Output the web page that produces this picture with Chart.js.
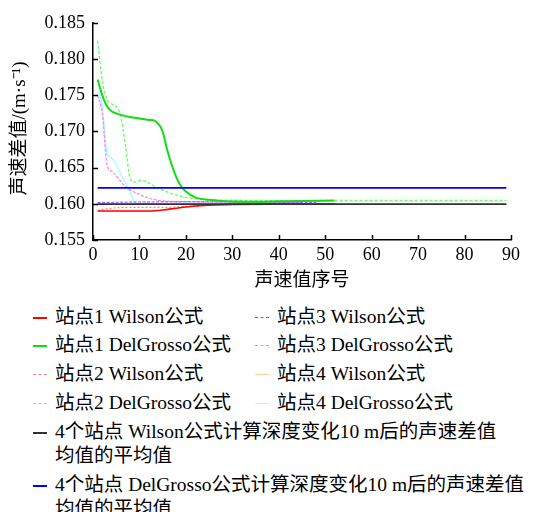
<!DOCTYPE html>
<html>
<head>
<meta charset="utf-8">
<script src="https://cdn.jsdelivr.net/npm/chart.js@4.4.0/dist/chart.umd.min.js"></script>
<style>
  body { margin: 0; background: #fff; width: 536px; height: 512px; overflow: hidden; position: relative;
         font-family: "Liberation Serif", "Noto Sans CJK SC", serif; }
  #c { position: absolute; left: 0; top: 0; }
  #legend { position: absolute; left: 0; top: 305px; width: 536px; font-size: 19.5px; color: #000; }
  .row { position: absolute; width: 500px; line-height: 24px; }
  .swatch { position: absolute; left: 0; width: 14px; height: 0; top: 12px; }
  .txt { position: absolute; left: 22px; top: 0; white-space: pre; }
</style>
</head>
<body>
<canvas id="c" width="536" height="295"></canvas>
<div id="legend"></div>
<script>
// tick labels
const xTicks = [0, 10, 20, 30, 40, 50, 60, 70, 80, 90];
const yTicks = [0.155, 0.160, 0.165, 0.170, 0.175, 0.180, 0.185];
const xTitle = "声速值序号";
const yTitle = "声速差值/(m·s⁻¹)";

const seriesLabels = [
  "站点1 Wilson公式", "站点1 DelGrosso公式", "站点2 Wilson公式", "站点2 DelGrosso公式",
  "站点3 Wilson公式", "站点3 DelGrosso公式", "站点4 Wilson公式", "站点4 DelGrosso公式",
  "4个站点 Wilson公式计算深度变化10 m后的声速差值\n均值的平均值",
  "4个站点 DelGrosso公式计算深度变化10 m后的声速差值\n均值的平均值"
];

// station 1 Wilson
const s1WilsonX = [1, 5, 10, 12, 15, 18, 21, 25, 30, 40, 52];
const s1WilsonY = [0.15900, 0.15900, 0.15900, 0.15901, 0.15915, 0.15940, 0.15963, 0.15982, 0.15992, 0.15996, 0.15997];
// station 1 DelGrosso
const s1DelX = [1, 2, 3, 4, 5, 6, 8, 10, 12, 13, 14, 15, 16, 17, 18, 19, 20, 22, 25, 30, 35, 40, 45, 52];
const s1DelY = [0.1772, 0.1750, 0.1735, 0.1728, 0.1725, 0.1723, 0.1720, 0.1718, 0.1716, 0.17155, 0.1711, 0.1700, 0.1674, 0.1653, 0.1636, 0.1624, 0.1617, 0.1609, 0.16056, 0.16032, 0.16030, 0.16035, 0.16040, 0.16046];
// station 2 Wilson
const s2WilsonX = [1, 3, 5, 10, 15, 20, 25, 30, 40, 45];
const s2WilsonY = [0.15910, 0.15930, 0.15945, 0.15950, 0.15950, 0.15965, 0.15980, 0.15990, 0.15995, 0.15996];
// station 2 DelGrosso
const s2DelX = [1, 2, 3, 4, 5, 6, 7, 8, 9, 10, 11, 12, 13, 15, 18, 21, 25, 30, 40, 89];
const s2DelY = [0.1825, 0.1770, 0.1745, 0.1738, 0.1735, 0.1720, 0.1680, 0.1635, 0.1630, 0.1632, 0.1632, 0.1629, 0.1625, 0.1619, 0.1612, 0.1608, 0.16056, 0.1605, 0.16046, 0.16046];
// station 3 Wilson
const s3WilsonX = [1, 10, 20, 30, 48];
const s3WilsonY = [0.16020, 0.16025, 0.16028, 0.16025, 0.16020];
// station 3 DelGrosso
const s3DelX = [1, 2, 3, 4, 5, 6, 7, 8, 10, 12, 15, 20, 30, 45];
const s3DelY = [0.1750, 0.1725, 0.1655, 0.1645, 0.1639, 0.1631, 0.1624, 0.1619, 0.1613, 0.1608, 0.1604, 0.1603, 0.16025, 0.1602];
// station 4 Wilson
const s4WilsonX = [1, 20, 40];
const s4WilsonY = [0.15998, 0.15998, 0.15998];
// station 4 DelGrosso
const s4DelX = [1, 2, 3, 4, 5, 6, 7, 8, 9, 10, 20, 40];
const s4DelY = [0.1755, 0.1735, 0.1670, 0.1663, 0.1654, 0.1641, 0.1629, 0.1616, 0.1602, 0.1600, 0.1600, 0.1600];
// averages
const avgWilsonX = [1, 89];
const avgWilsonY = [0.15996, 0.15996];
const avgDelX = [1, 89];
const avgDelY = [0.1622, 0.1622];

const seriesX = [s1WilsonX, s1DelX, s2WilsonX, s2DelX, s3WilsonX, s3DelX, s4WilsonX, s4DelX, avgWilsonX, avgDelX];
const seriesY = [s1WilsonY, s1DelY, s2WilsonY, s2DelY, s3WilsonY, s3DelY, s4WilsonY, s4DelY, avgWilsonY, avgDelY];

const styles = [
  { color: "#ff0000", width: 1.6, dash: [] },
  { color: "#11dd11", width: 2, dash: [] },
  { color: "#ff8080", width: 1.2, dash: [2, 2] },
  { color: "#66ff66", width: 1.4, dash: [3, 2] },
  { color: "#8844ff", width: 1, dash: [3, 1.5] },
  { color: "#ff77ff", width: 1.2, dash: [3, 1.5] },
  { color: "#ffcc99", width: 1.4, dash: [] },
  { color: "#99ffff", width: 1.2, dash: [] },
  { color: "#333333", width: 1.6, dash: [] },
  { color: "#0000ff", width: 1.8, dash: [] }
];

// legend drawn as html text
const legend = document.getElementById("legend");
const rowTops = [0, 28, 57, 86, 0, 28, 57, 86, 115, 168];
seriesLabels.forEach((lab, i) => {
  const row = document.createElement("div");
  row.className = "row";
  const left = (i >= 4 && i < 8) ? 255 : 33;
  row.style.left = left + "px";
  row.style.top = rowTops[i] + "px";
  const sw = document.createElement("span");
  sw.className = "swatch";
  const st = styles[i];
  sw.style.borderTop = Math.max(1, Math.round(st.width)) + "px " + (st.dash.length ? "dashed" : "solid") + " " + st.color;
  const tx = document.createElement("span");
  tx.className = "txt";
  tx.textContent = lab;
  row.appendChild(sw);
  row.appendChild(tx);
  legend.appendChild(row);
});

const datasets = seriesLabels.map((lab, i) => ({
  label: lab,
  data: seriesX[i].map((x, j) => ({ x: x, y: seriesY[i][j] })),
  borderColor: styles[i].color,
  borderWidth: styles[i].width,
  borderDash: styles[i].dash,
  pointRadius: 0,
  fill: false,
  cubicInterpolationMode: "monotone"
}));
// keep average lines and station 1 on top
const order = [8, 9, 0, 1, 4, 5, 2, 3, 6, 7];
datasets.forEach((d, i) => { d.order = order.indexOf(i); });

// inward tick marks plus serif axis text, placed with the chart's own scales
const axisText = {
  id: "axisText",
  afterDraw(chart) {
    const ctx = chart.ctx, xs = chart.scales.x, ys = chart.scales.y;
    ctx.save();
    ctx.strokeStyle = "#000";
    ctx.lineWidth = 1.5;
    ctx.beginPath();
    yTicks.forEach(v => {
      const y = Math.round(ys.getPixelForValue(v)) + 0.5;
      ctx.moveTo(xs.left, y); ctx.lineTo(xs.left + 5, y);
    });
    xTicks.forEach(v => {
      const x = Math.round(xs.getPixelForValue(v)) + 0.5;
      ctx.moveTo(x, ys.bottom); ctx.lineTo(x, ys.bottom - 5);
    });
    ctx.stroke();

    ctx.fillStyle = "#000";
    ctx.font = "18px 'Liberation Serif'";
    ctx.textAlign = "right";
    ctx.textBaseline = "middle";
    yTicks.forEach(v => ctx.fillText(v.toFixed(3), xs.left - 8, ys.getPixelForValue(v)));
    ctx.textAlign = "center";
    ctx.textBaseline = "top";
    xTicks.forEach(v => ctx.fillText(String(v), xs.getPixelForValue(v), ys.bottom + 6));

    ctx.font = "19px 'Liberation Serif', 'Noto Sans CJK SC'";
    ctx.textBaseline = "middle";
    ctx.fillText(xTitle, (xs.left + xs.right) / 2, 281);
    ctx.translate(20, (ys.top + ys.bottom) / 2 - 3);
    ctx.rotate(-Math.PI / 2);
    ctx.fillText(yTitle, 0, 0);
    ctx.restore();
  }
};

new Chart(document.getElementById("c"), {
  type: "line",
  data: { datasets: datasets },
  options: {
    responsive: false,
    animation: false,
    devicePixelRatio: 1,
    layout: { padding: { top: 23, right: 25, left: 0, bottom: 0 } },
    plugins: { legend: { display: false }, tooltip: { enabled: false } },
    scales: {
      x: {
        type: "linear", min: 0, max: 90,
        afterBuildTicks: s => { s.ticks = xTicks.map(v => ({ value: v })); },
        afterFit: s => { s.height = 55; },
        grid: { display: false },
        border: { display: true, color: "#000", width: 1.5 },
        ticks: { display: false }
      },
      y: {
        type: "linear", min: 0.155, max: 0.185,
        afterBuildTicks: s => { s.ticks = yTicks.map(v => ({ value: v })); },
        afterFit: s => { s.width = 93; },
        grid: { display: false },
        border: { display: true, color: "#000", width: 1.5 },
        ticks: { display: false }
      }
    }
  },
  plugins: [axisText]
});
</script>
</body>
</html>
